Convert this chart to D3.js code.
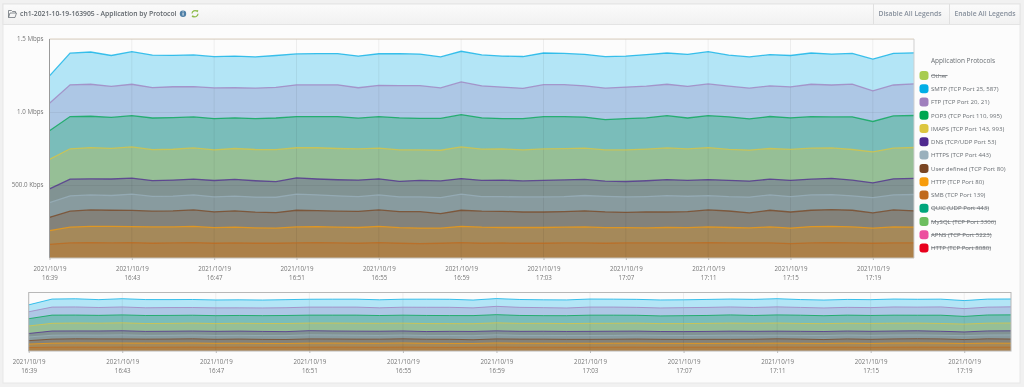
<!DOCTYPE html>
<html>
<head>
<meta charset="utf-8">
<script src="https://cdn.jsdelivr.net/npm/d3@7"></script>
<style>
  html, body { margin: 0; padding: 0; background: #f1f1f1; overflow: hidden; }
  svg { display: block; filter: blur(0.3px); }
  text { font-family: "Open Sans", sans-serif; }
  .tick text { fill: #767676; font-size: 6.2px; }
  .legend text { fill: #6a6f74; font-size: 6.1px; }
</style>
</head>
<body>
<svg id="chart" width="1024" height="387"></svg>
<script>
const title = "ch1-2021-10-19-163905 - Application by Protocol";
const legendTitle = "Application Protocols";
const dateLabel = "2021/10/19";
const tickTimes = ["16:39", "16:43", "16:47", "16:51", "16:55", "16:59", "17:03", "17:07", "17:11", "17:15", "17:19"];
const yTicks = [500, 1000, 1500];
const yTickLabels = ["500.0 Kbps", "1.0 Mbps", "1.5 Mbps"];

// legend order, top to bottom
const protocols = ["Other", "SMTP (TCP Port 25, 587)", "FTP (TCP Port 20, 21)", "POP3 (TCP Port 110, 995)", "IMAPS (TCP Port 143, 993)", "DNS (TCP/UDP Port 53)", "HTTPS (TCP Port 443)", "User defined (TCP Port 80)", "HTTP (TCP Port 80)", "SMB (TCP Port 139)", "QUIC (UDP Port 443)", "MySQL (TCP Port 3306)", "APNS (TCP Port 5223)", "HTTP (TCP Port 8080)"];
const colors = ["#a8cc4f", "#00aee6", "#9f7fbd", "#00a651", "#dcc63f", "#4f2a8f", "#9ab0bc", "#7a4522", "#f79c0c", "#bf6a1e", "#00a67c", "#6cbe5f", "#ec4f9f", "#e8001c"];
const disabled = ["Other", "QUIC (UDP Port 443)", "MySQL (TCP Port 3306)", "APNS (TCP Port 5223)", "HTTP (TCP Port 8080)"];

// Kbps per minute, 16:39 to 17:21
const smb = [94,103,105,103,105,101,103,105,101,103,101,101,103,105,103,101,105,101,99,101,105,101,103,101,101,103,103,101,103,103,103,103,105,103,103,103,99,103,105,103,101,103,103];
const http = [93,108,112,113,110,112,110,111,107,108,105,103,110,110,108,108,112,107,106,103,112,110,106,108,108,108,110,107,105,103,106,105,108,106,103,110,106,112,112,110,103,110,108];
const userDefined = [92,110,112,111,111,108,110,113,108,112,108,107,114,110,110,111,112,110,112,100,110,110,111,106,106,107,110,108,105,110,106,110,116,113,103,114,110,112,114,114,105,116,112];
const https = [100,105,103,101,111,101,101,103,103,101,103,105,110,108,105,100,103,101,101,110,110,100,100,103,103,103,105,106,105,105,112,105,98,98,108,105,106,105,103,98,105,103,112];
const dns = [94,114,110,113,110,108,110,108,112,114,112,107,112,108,110,114,110,106,114,114,107,110,114,110,113,114,110,104,106,108,110,108,110,112,110,108,111,108,112,108,101,110,110];
const imaps = [203,208,214,210,214,212,211,214,210,212,214,219,206,214,214,214,210,216,208,210,217,215,214,212,216,214,215,214,216,217,217,216,219,212,212,210,212,212,208,210,212,210,212];
const pop3 = [196,221,215,212,214,217,216,212,214,210,212,217,214,214,219,210,216,219,217,218,221,214,207,214,221,219,212,208,214,214,221,212,219,223,214,219,216,216,212,224,208,221,219];
const ftp = [188,217,219,212,215,208,212,208,210,206,208,210,217,217,217,208,215,221,223,209,224,219,216,208,219,219,214,215,217,217,215,217,217,210,210,210,212,222,219,224,210,212,217];
const smtp = [187,217,221,212,223,222,215,217,214,217,214,218,212,214,214,217,216,219,217,212,210,212,212,218,217,214,216,216,212,216,214,219,221,212,214,214,215,214,212,210,217,217,212];

// stacked bottom to top, keys point into protocols
const stacked = [
  { name: "SMB (TCP Port 139)", values: smb },
  { name: "HTTP (TCP Port 80)", values: http },
  { name: "User defined (TCP Port 80)", values: userDefined },
  { name: "HTTPS (TCP Port 443)", values: https },
  { name: "DNS (TCP/UDP Port 53)", values: dns },
  { name: "IMAPS (TCP Port 143, 993)", values: imaps },
  { name: "POP3 (TCP Port 110, 995)", values: pop3 },
  { name: "FTP (TCP Port 20, 21)", values: ftp },
  { name: "SMTP (TCP Port 25, 587)", values: smtp }
];

const parseTime = d3.timeParse("%Y/%m/%d %H:%M");
const start = parseTime(dateLabel + " 16:39");
const end = parseTime(dateLabel + " 17:21");
const minutes = d3.range(smb.length).map((i) => d3.timeMinute.offset(start, i));
const rows = minutes.map((t, i) => {
  const row = { time: t };
  stacked.forEach((s) => { row[s.name] = s.values[i]; });
  return row;
});
// areas all reach down to zero and overlap, so the tallest goes first
const series = d3.stack().keys(stacked.map((s) => s.name))(rows).reverse();
const color = d3.scaleOrdinal().domain(protocols).range(colors);

const svg = d3.select("#chart");

// panels ------------------------------------------------------
const defs = svg.append("defs");
const grad = defs.append("linearGradient").attr("id", "head").attr("x2", 0).attr("y2", 1);
grad.append("stop").attr("offset", 0).attr("stop-color", "#fbfbfb");
grad.append("stop").attr("offset", 1).attr("stop-color", "#f1f1f1");

svg.append("rect").attr("x", 3).attr("y", 4).attr("width", 1017).attr("height", 379)
  .attr("fill", "#fcfcfc").attr("stroke", "#e8e8e8");
svg.append("rect").attr("x", 3).attr("y", 4).attr("width", 1017).attr("height", 20.5)
  .attr("fill", "url(#head)").attr("stroke", "#e4e4e4");
[873.5, 949.5].forEach((x) => {
  svg.append("line").attr("x1", x).attr("x2", x).attr("y1", 4).attr("y2", 24).attr("stroke", "#e0e0e0");
});

// header ------------------------------------------------------
svg.append("text").attr("x", 20).attr("y", 16.2).text(title)
  .attr("fill", "#60666c").attr("font-size", 6.8).attr("font-weight", 600);
svg.append("text").attr("x", 910).attr("y", 16.2).text("Disable All Legends").attr("text-anchor", "middle")
  .attr("fill", "#87909c").attr("font-size", 6.8).attr("font-weight", 600);
svg.append("text").attr("x", 985).attr("y", 16.2).text("Enable All Legends").attr("text-anchor", "middle")
  .attr("fill", "#87909c").attr("font-size", 6.8).attr("font-weight", 600);

// folder icon
svg.append("path").attr("d", "M8.5 17.5V10.5H11.5L12.5 11.5H15.5V13M8.5 17.5L10 13H16.5L15 17.5Z")
  .attr("fill", "none").attr("stroke", "#70767c").attr("stroke-width", 0.8);
// info icon
svg.append("circle").attr("cx", 183).attr("cy", 13.7).attr("r", 3.2).attr("fill", "#4f7fa6");
svg.append("rect").attr("x", 182.6).attr("y", 12.8).attr("width", 0.9).attr("height", 2.8).attr("fill", "#fff");
svg.append("rect").attr("x", 182.6).attr("y", 11.4).attr("width", 0.9).attr("height", 0.9).attr("fill", "#fff");
// refresh icon
svg.append("path").attr("d", "M192 13.5A3 3 0 0 1 197 11.4M198 13.8A3 3 0 0 1 193 16")
  .attr("fill", "none").attr("stroke", "#8dbb4a").attr("stroke-width", 1.2);
svg.append("path").attr("d", "M196 10L198.3 10.3L197.8 12.5Z M194 17.4L191.7 17L192.3 15Z").attr("fill", "#8dbb4a");

// Draws one stacked chart with its grid, axis and frame
function drawChart(box, yMax, withYAxis) {
  const x = d3.scaleTime().domain([start, end]).range([box.left, box.right]);
  const y = d3.scaleLinear().domain([0, yMax]).range([box.bottom, box.top]);
  const tickDates = tickTimes.map((t) => parseTime(dateLabel + " " + t));
  const g = svg.append("g");

  g.selectAll(".area").data(series).join("path")
    .attr("fill", (d) => color(d.key))
    .attr("fill-opacity", 0.29)
    .attr("d", d3.area().x((d) => x(d.data.time)).y0(y(0)).y1((d) => y(d[1])));

  // grid on top of the areas, like the original
  g.selectAll(".vgrid").data(tickDates).join("line")
    .attr("x1", (d) => x(d)).attr("x2", (d) => x(d))
    .attr("y1", box.top).attr("y2", box.bottom)
    .attr("stroke", "#000").attr("stroke-opacity", 0.06);

  g.selectAll(".line").data(series).join("path")
    .attr("fill", "none")
    .attr("stroke", (d) => color(d.key))
    .attr("stroke-opacity", 0.75)
    .attr("stroke-width", box.lineWidth)
    .attr("d", d3.line().x((d) => x(d.data.time)).y((d) => y(d[1])));

  const xAxis = g.append("g").attr("transform", `translate(0,${box.bottom})`)
    .call(d3.axisBottom(x).tickValues(tickDates).tickSize(2).tickPadding(6.5).tickFormat(() => dateLabel));
  xAxis.select(".domain").remove();
  xAxis.selectAll(".tick line").attr("stroke", "#bbb");
  xAxis.selectAll(".tick text").each(function (d, i) {
    d3.select(this).append("tspan").attr("x", 0).attr("dy", "1.4em").text(tickTimes[i]);
  });

  if (withYAxis) {
    g.selectAll(".hgrid").data(yTicks).join("line")
      .attr("x1", box.left).attr("x2", box.right)
      .attr("y1", (d) => Math.round(y(d)) + 0.5).attr("y2", (d) => Math.round(y(d)) + 0.5)
      .attr("stroke", "#000").attr("stroke-opacity", 0.05);
    const yAxis = g.append("g").attr("transform", `translate(${box.left},0)`)
      .call(d3.axisLeft(y).tickValues(yTicks).tickSize(0).tickPadding(6).tickFormat((d, i) => yTickLabels[i]));
    yAxis.select(".domain").remove();
    g.append("line").attr("x1", box.left).attr("x2", box.right).attr("y1", box.top).attr("y2", box.top)
      .attr("stroke", "#dccfc0").attr("stroke-width", 1.2);
    g.append("line").attr("x1", box.right).attr("x2", box.right).attr("y1", box.top).attr("y2", box.bottom)
      .attr("stroke", "#cfcfcf");
    g.append("line").attr("x1", box.left).attr("x2", box.left).attr("y1", box.top).attr("y2", box.bottom)
      .attr("stroke", "#9a9a9a");
    g.append("line").attr("x1", box.left).attr("x2", box.right).attr("y1", box.bottom).attr("y2", box.bottom)
      .attr("stroke", "#c4c0b8");
  } else {
    g.append("rect").attr("x", box.left).attr("y", box.top)
      .attr("width", box.right - box.left).attr("height", box.bottom - box.top)
      .attr("fill", "none").attr("stroke", "#b8b8b8").attr("stroke-width", 1);
  }
}

drawChart({ left: 49.5, right: 914, top: 39, bottom: 258, lineWidth: 1.3 }, 1500, true);
drawChart({ left: 28.7, right: 1011, top: 292.5, bottom: 351, lineWidth: 1 }, 1580, false);

// legend ------------------------------------------------------
const legendY = d3.scalePoint().domain(protocols).range([75.5, 248]);
svg.append("text").attr("x", 963).attr("y", 63.3).attr("text-anchor", "middle").text(legendTitle)
  .attr("fill", "#6a6f74").attr("font-size", 6.5);
const items = svg.append("g").attr("class", "legend").selectAll("g").data(protocols).join("g")
  .attr("transform", (d) => `translate(0,${legendY(d)})`);
items.append("rect").attr("x", 919.5).attr("y", -4.5).attr("width", 9).attr("height", 9).attr("rx", 3)
  .attr("fill", (d) => color(d));
items.append("text").attr("x", 931).attr("y", 2.2).text((d) => d)
  .style("text-decoration", (d) => disabled.includes(d) ? "line-through" : "none");
</script>
</body>
</html>
